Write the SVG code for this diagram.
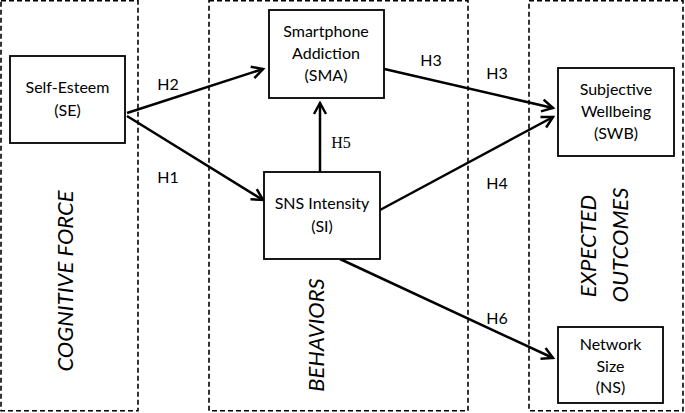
<svg xmlns="http://www.w3.org/2000/svg" width="685" height="413" viewBox="0 0 685 413">
<defs>
<marker id="arr" markerUnits="userSpaceOnUse" markerWidth="16" markerHeight="16" viewBox="0 0 16 16" refX="13" refY="8" orient="auto">
<path d="M2,2 L13,8 L2,14" fill="none" stroke="#000" stroke-width="2.5" stroke-linejoin="miter"/>
</marker>
<style>
.zone{fill:none;stroke:#000;stroke-width:1.6;stroke-dasharray:5 3}
.node{fill:#fff;stroke:#000;stroke-width:1.8}
.t{font-family:Lato,"Open Sans",sans-serif;font-size:16px;fill:#000;text-anchor:middle}
.z{font-family:Lato,"Open Sans",sans-serif;font-size:22px;font-style:italic;fill:#000;text-anchor:middle}
.h{font-family:Lato,"Open Sans",sans-serif;font-size:16px;fill:#000;text-anchor:middle}
.hs{font-family:"Liberation Serif",serif;font-size:16px;fill:#000;text-anchor:middle}
.c{fill:none;stroke:#000;stroke-width:2.5;marker-end:url(#arr)}
</style>
</defs>
<rect width="685" height="413" fill="#fff"/>
<g id="zones">
<rect class="zone" x="1" y="0.8" width="137" height="410"/>
<rect class="zone" x="209" y="0.8" width="259" height="410"/>
<rect class="zone" x="529" y="0.8" width="154" height="410"/>
<text class="z" transform="translate(73,281) rotate(-90)">COGNITIVE FORCE</text>
<text class="z" transform="translate(324,335) rotate(-90)">BEHAVIORS</text>
<text class="z" transform="translate(596,246) rotate(-90)">EXPECTED</text>
<text class="z" transform="translate(628,245) rotate(-90)">OUTCOMES</text>
</g>
<g id="connectors">
<line class="c" x1="127" y1="113" x2="263" y2="69"/>
<line class="c" x1="127" y1="116" x2="263" y2="200"/>
<line class="c" x1="320" y1="172" x2="320" y2="103"/>
<line class="c" x1="380" y1="68" x2="553" y2="108"/>
<line class="c" x1="380" y1="210" x2="553" y2="117"/>
<line class="c" x1="340" y1="259" x2="553" y2="358"/>
<text class="h" x="168" y="90">H2</text>
<text class="h" x="168" y="183">H1</text>
<text class="hs" x="341" y="148">H5</text>
<text class="h" x="431" y="66">H3</text>
<text class="h" x="497" y="79">H3</text>
<text class="h" x="497" y="189">H4</text>
<text class="h" x="497" y="324">H6</text>
</g>
<g id="SE">
<rect class="node" x="10" y="56" width="115" height="87"/>
<text class="t" x="67.5" y="93">Self-Esteem</text>
<text class="t" x="67.5" y="116">(SE)</text>
</g>
<g id="SMA">
<rect class="node" x="269" y="10" width="115" height="88"/>
<text class="t" x="326" y="37">Smartphone</text>
<text class="t" x="326" y="59">Addiction</text>
<text class="t" x="326" y="81">(SMA)</text>
</g>
<g id="SI">
<rect class="node" x="264" y="172" width="116" height="87"/>
<text class="t" x="322" y="209">SNS Intensity</text>
<text class="t" x="322" y="232">(SI)</text>
</g>
<g id="SWB">
<rect class="node" x="558" y="68" width="116" height="88"/>
<text class="t" x="616" y="95">Subjective</text>
<text class="t" x="616" y="117">Wellbeing</text>
<text class="t" x="616" y="139">(SWB)</text>
</g>
<g id="NS">
<rect class="node" x="558" y="327" width="105" height="76"/>
<text class="t" x="610.5" y="350">Network</text>
<text class="t" x="610.5" y="372">Size</text>
<text class="t" x="610.5" y="393">(NS)</text>
</g>
</svg>
